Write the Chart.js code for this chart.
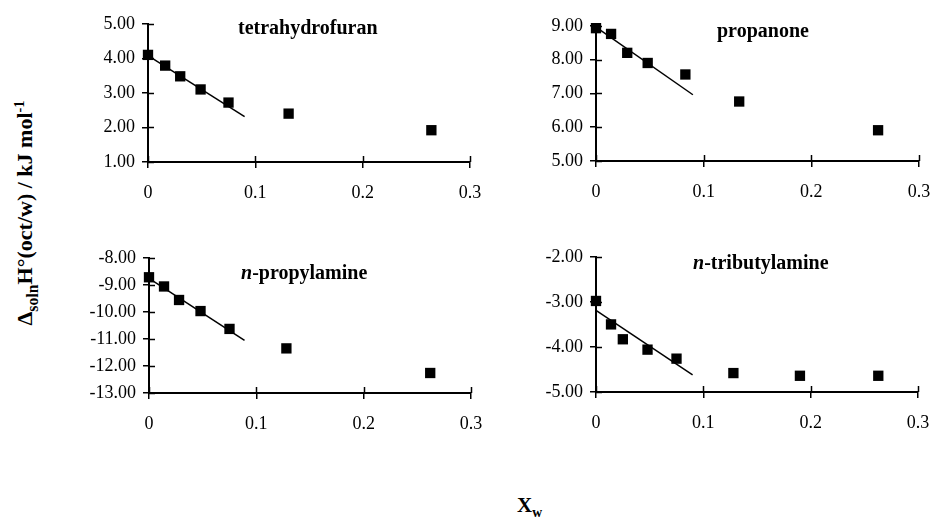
<!DOCTYPE html>
<html>
<head>
<meta charset="utf-8">
<script src="https://cdn.jsdelivr.net/npm/chart.js@4/dist/chart.umd.min.js"></script>
<style>
  body { margin: 0; background: #fff; }
  #page { position: relative; width: 933px; height: 517px; overflow: hidden; background: #fff; }
  canvas { position: absolute; }
  .ptitle { position: absolute; font-family: "Liberation Serif", serif; font-weight: bold; font-size: 20px; line-height: 20px; color: #000; white-space: nowrap; }
  #ytitle { position: absolute; font-family: "Liberation Serif", serif; font-weight: bold; font-size: 22px; line-height: 26px; color: #000; white-space: nowrap; transform: translate(-50%, -50%) rotate(-90deg); left: 26px; top: 213px; }
  #ytitle sub { font-size: 72%; }
  #xtitle { position: absolute; font-family: "Liberation Serif", serif; font-weight: bold; font-size: 21px; line-height: 24px; color: #000; left: 517px; top: 493px; }
  sub, sup { font-size: 65%; }
</style>
</head>
<body>
<div id="page">
  <canvas id="c1"></canvas>
  <canvas id="c2"></canvas>
  <canvas id="c3"></canvas>
  <canvas id="c4"></canvas>
  <div class="ptitle" style="left:238px; top:17px;">tetrahydrofuran</div>
  <div class="ptitle" style="left:717px; top:20px;">propanone</div>
  <div class="ptitle" style="left:241px; top:262px;"><i>n</i>-propylamine</div>
  <div class="ptitle" style="left:693px; top:252px;"><i>n</i>-tributylamine</div>
  <div id="ytitle">&Delta;<sub>soln</sub>H&deg;(oct/w) / kJ mol<sup>-1</sup></div>
  <div id="xtitle">X<sub>w</sub></div>
</div>
<script>
//measured data, mole fraction of water vs enthalpy
var thfX = [0, 0.016, 0.030, 0.049, 0.075, 0.131, 0.264];
var thfY = [4.10, 3.79, 3.48, 3.10, 2.72, 2.40, 1.92];
var thfFitX = [0, 0.09];
var thfFitY = [4.08, 2.31];

var propanoneX = [0, 0.014, 0.029, 0.048, 0.083, 0.133, 0.262];
var propanoneY = [8.93, 8.76, 8.20, 7.90, 7.56, 6.76, 5.91];
var propanoneFitX = [0, 0.09];
var propanoneFitY = [8.96, 6.96];

var propylamineX = [0, 0.014, 0.028, 0.048, 0.075, 0.128, 0.262];
var propylamineY = [-8.72, -9.06, -9.56, -9.97, -10.63, -11.35, -12.26];
var propylamineFitX = [0, 0.089];
var propylamineFitY = [-8.76, -11.05];

var tributylamineX = [0, 0.014, 0.025, 0.048, 0.075, 0.128, 0.19, 0.263];
var tributylamineY = [-2.98, -3.50, -3.83, -4.06, -4.26, -4.58, -4.64, -4.64];
var tributylamineFitX = [0, 0.09];
var tributylamineFitY = [-3.19, -4.62];

//axis ranges, [min, max]
var xRange = [0, 0.3];
var thfRange = [1, 5];
var propanoneRange = [5, 9];
var propylamineRange = [-13, -8];
var tributylamineRange = [-5, -2];

//where each plot area sits on the page: left, right, top, bottom
var boxes = {
  c1: [148, 470, 20, 162],
  c2: [596, 919, 22, 161],
  c3: [149, 471, 254, 393],
  c4: [596, 918, 253, 392]
};

//room for the axis labels; PAD_R must stay above half the last x label + its padding
var AXIS_W = 70, AXIS_H = 45, PAD_T = 14, PAD_R = 28;

function toPoints(xs, ys)
{
  return xs.map(function(x, i){ return {x: x, y: ys[i]}; });
}

//draw the half of each tick that sits inside the plot, so ticks cross the axis
var crossTicks = {
  id: 'crossTicks',
  afterDraw: function(chart) {
    var ctx = chart.ctx, area = chart.chartArea;
    var xs = chart.scales.x, ys = chart.scales.y;
    ctx.save();
    ctx.strokeStyle = '#000';
    ctx.lineWidth = 1.5;
    xs.ticks.forEach(function(t){
      var px = Math.round(xs.getPixelForValue(t.value)) + 0.5;
      ctx.beginPath();
      ctx.moveTo(px, area.bottom);
      ctx.lineTo(px, area.bottom - 6);
      ctx.stroke();
    });
    ys.ticks.forEach(function(t){
      var py = Math.round(ys.getPixelForValue(t.value)) + 0.5;
      ctx.beginPath();
      ctx.moveTo(area.left, py);
      ctx.lineTo(area.left + 6, py);
      ctx.stroke();
    });
    ctx.restore();
  }
};

function makePanel(id, xs, ys, fitX, fitY, yRange)
{
  var b = boxes[id];
  var canvas = document.getElementById(id);
  var w = (b[1] - b[0]) + AXIS_W + PAD_R;
  var h = (b[3] - b[2]) + PAD_T + AXIS_H;
  canvas.width = w;
  canvas.height = h;
  canvas.style.left = (b[0] - AXIS_W) + 'px';
  canvas.style.top = (b[2] - PAD_T) + 'px';

  var tickFont = {family: '"Liberation Serif", serif', size: 18};

  return new Chart(canvas, {
    type: 'scatter',
    data: {
      datasets: [
        {
          type: 'line',
          data: toPoints(fitX, fitY),
          borderColor: '#000',
          borderWidth: 1.5,
          pointRadius: 0,
          clip: false
        },
        {
          data: toPoints(xs, ys),
          backgroundColor: '#000',
          borderWidth: 0,
          pointStyle: 'rect',
          pointRadius: 7.3,
          clip: false
        }
      ]
    },
    options: {
      responsive: false,
      animation: false,
      devicePixelRatio: 1,
      events: [],
      layout: { padding: {top: PAD_T, right: PAD_R, left: 0, bottom: 0} },
      plugins: { legend: {display: false}, tooltip: {enabled: false} },
      scales: {
        x: {
          type: 'linear',
          min: xRange[0],
          max: xRange[1],
          afterFit: function(s){ s.height = AXIS_H; },
          border: {color: '#000', width: 2},
          grid: {drawOnChartArea: false, color: '#000', lineWidth: 1.5, tickLength: 6},
          ticks: {
            stepSize: 0.1,
            color: '#000',
            font: tickFont,
            padding: 14,
            maxRotation: 0,
            callback: function(v){ return v === 0 ? '0' : String(+v.toFixed(1)); }
          }
        },
        y: {
          type: 'linear',
          min: yRange[0],
          max: yRange[1],
          afterFit: function(s){ s.width = AXIS_W; },
          border: {color: '#000', width: 2},
          grid: {drawOnChartArea: false, color: '#000', lineWidth: 1.5, tickLength: 6},
          ticks: {
            stepSize: 1,
            color: '#000',
            font: tickFont,
            padding: 7,
            callback: function(v){ return v.toFixed(2); }
          }
        }
      }
    },
    plugins: [crossTicks]
  });
}

makePanel('c1', thfX, thfY, thfFitX, thfFitY, thfRange);
makePanel('c2', propanoneX, propanoneY, propanoneFitX, propanoneFitY, propanoneRange);
makePanel('c3', propylamineX, propylamineY, propylamineFitX, propylamineFitY, propylamineRange);
makePanel('c4', tributylamineX, tributylamineY, tributylamineFitX, tributylamineFitY, tributylamineRange);
</script>
</body>
</html>
